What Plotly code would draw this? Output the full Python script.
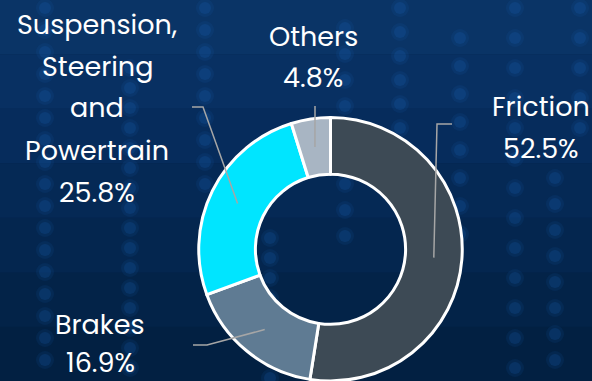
import math
import plotly.graph_objects as go

W, H = 592, 381

categories = ["Friction", "Brakes", "Suspension, Steering and Powertrain", "Others"]
values = [52.5, 16.9, 25.8, 4.8]
label_lines = [["Friction", "52.5%"], ["Brakes", "16.9%"],
               ["Suspension,", "Steering", "and", "Powertrain", "25.8%"],
               ["Others", "4.8%"]]
colors = ["#3d4a55", "#5f7b93", "#00e5ff", "#a8b5c3"]

# layout helpers (pixel -> paper)
def px(x):
    return x / W

def py(y):
    return 1 - y / H

cx, cy, R, hole = 330.5, 249.5, 132.0, 0.57
fig = go.Figure(go.Pie(
    labels=categories, values=values, sort=False, direction="clockwise", rotation=0,
    hole=hole, marker=dict(colors=colors, line=dict(color="white", width=3)),
    textinfo="none", hoverinfo="label+percent", showlegend=False,
    domain=dict(x=[px(cx - R), px(cx + R)], y=[0, py(cy - R)]),
))

# label block positions (text centre x, first line y, line gap) and leader elbows
label_pos = [(541, 106, 42), (100, 324, 38), (97, 24, 42), (313, 36, 42)]
elbows = [[(437, 124), (452, 124)], [(207, 345), (193, 345)],
          [(203, 107), (192, 107)], [(315, 106)]]
font = dict(family="Poppins, Lato, Open Sans, sans-serif", size=27, color="white")

annotations = []
shapes = []

# decorative background: soft gradient bands and faint bokeh dots
bands = ["#0a3466", "#083062", "#062c5c", "#052955", "#04264f", "#032348", "#022042"]
for k, c in enumerate(bands):
    shapes.append(dict(type="rect", xref="paper", yref="paper", x0=0, x1=1,
                       y0=1 - (k + 1) / len(bands), y1=1 - k / len(bands),
                       fillcolor=c, line=dict(width=0), layer="below"))
dot_cols = [(45, 0, 380, 22), (130, 60, 380, 20), (205, 0, 200, 22), (270, 230, 380, 20),
            (345, 20, 250, 26), (400, 0, 200, 24), (460, 30, 240, 28),
            (515, 0, 380, 30), (555, 170, 380, 26), (580, 0, 150, 30)]
for x, y0, y1, step in dot_cols:
    y = y0 + 8
    while y < y1:
        for r, op in ((9, 0.10), (6, 0.18)):
            shapes.append(dict(type="circle", xref="paper", yref="paper",
                               x0=px(x - r), x1=px(x + r), y0=py(y + r), y1=py(y - r),
                               fillcolor="#1a6cc0", opacity=op, line=dict(width=0),
                               layer="below"))
        y += step

total = sum(values)
cum = 0
rm = R * (1 + hole) / 2
for i, v in enumerate(values):
    mid = (cum + v / 2) / total * 2 * math.pi
    cum += v
    sx, sy = cx + rm * math.sin(mid), cy - rm * math.cos(mid)
    pts = [(sx, sy)] + elbows[i]
    path = "M " + " L ".join(f"{px(x)},{py(y)}" for x, y in pts)
    shapes.append(dict(type="path", path=path, xref="paper", yref="paper",
                       line=dict(color="#a6a6a6", width=1.5), layer="above"))
    lx, ly, gap = label_pos[i]
    for j, t in enumerate(label_lines[i]):
        annotations.append(dict(text=t, x=px(lx), y=py(ly + j * gap), xref="paper",
                                yref="paper", xanchor="center", yanchor="middle",
                                showarrow=False, font=font, borderpad=0))

fig.update_layout(
    width=W, height=H, margin=dict(l=0, r=0, t=0, b=0),
    paper_bgcolor="#04264f", plot_bgcolor="rgba(0,0,0,0)",
    annotations=annotations, shapes=shapes,
)
fig.write_html("out.html")
